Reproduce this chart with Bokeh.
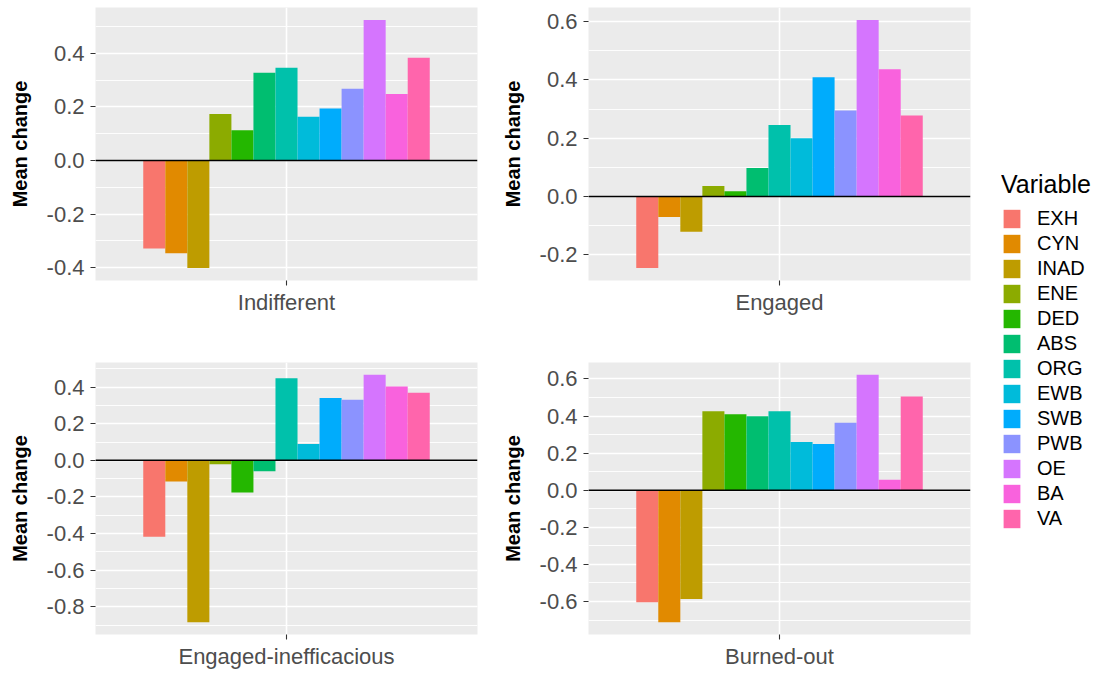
from bokeh.plotting import figure
from bokeh.layouts import row, column
from bokeh.models import (Range1d, FixedTicker, SingleIntervalTicker, PrintfTickFormatter,
                          Span, Legend, LegendItem)
from bokeh.embed import file_html
from bokeh.resources import INLINE

variables = ["EXH", "CYN", "INAD", "ENE", "DED", "ABS", "ORG", "EWB", "SWB", "PWB", "OE", "BA", "VA"]
colors = ["#F8766D", "#E18A00", "#BE9C00", "#8CAB00", "#24B700", "#00BE70", "#00C1AB",
          "#00BBDA", "#00ACFC", "#8B93FF", "#D575FE", "#F962DD", "#FF65AC"]
profiles = ["Indifferent", "Engaged", "Engaged-inefficacious", "Burned-out"]
indifferent = [-0.329, -0.347, -0.402, 0.174, 0.113, 0.328, 0.346, 0.163, 0.194, 0.268, 0.525, 0.248, 0.384]
engaged = [-0.246, -0.071, -0.121, 0.036, 0.018, 0.098, 0.245, 0.200, 0.409, 0.295, 0.606, 0.437, 0.278]
engaged_ineff = [-0.418, -0.115, -0.884, -0.022, -0.176, -0.060, 0.449, 0.089, 0.340, 0.331, 0.467, 0.404, 0.369]
burned_out = [-0.604, -0.711, -0.586, 0.426, 0.410, 0.399, 0.426, 0.260, 0.249, 0.364, 0.622, 0.056, 0.505]

FONT = "Liberation Sans"


def panel(name, vals, bl, br, bt, bb, fh):
    n = len(variables)
    dodge = 0.9
    w = dodge / n
    xs = [1 - dodge / 2 + (i + 0.5) * w for i in range(n)]
    lo = min(min(vals), 0)
    hi = max(max(vals), 0)
    pad = 0.05 * (hi - lo)
    p = figure(frame_width=382, frame_height=fh, min_border_left=bl, min_border_right=br,
               min_border_top=bt, min_border_bottom=bb,
               x_range=Range1d(0.4, 1.6), y_range=Range1d(lo - pad, hi + pad),
               toolbar_location=None, output_backend="svg")
    p.vbar(x=xs, top=vals, bottom=0, width=w, fill_color=colors, line_color=None)
    p.add_layout(Span(location=0, dimension="width", line_color="black", line_width=1.5))
    p.background_fill_color = "#EBEBEB"
    p.border_fill_color = "white"
    p.outline_line_color = None

    p.xaxis.ticker = FixedTicker(ticks=[1])
    p.xaxis.major_label_overrides = {1: name}
    p.yaxis.ticker = SingleIntervalTicker(interval=0.2, num_minor_ticks=2)
    p.yaxis.formatter = PrintfTickFormatter(format="%.1f")
    for ax in (p.xaxis[0], p.yaxis[0]):
        ax.axis_line_color = None
        ax.major_tick_in = 0
        ax.major_tick_out = 5
        ax.major_tick_line_color = "#333333"
        ax.major_tick_line_width = 1.1
        ax.minor_tick_line_color = None
        ax.major_label_text_font = FONT
        ax.major_label_text_font_size = "22px"
        ax.major_label_text_color = "#4D4D4D"
    p.xaxis.major_label_standoff = 4
    p.yaxis.major_label_standoff = 6
    p.yaxis.axis_label = "Mean change"
    p.yaxis.axis_label_text_font = FONT
    p.yaxis.axis_label_text_font_style = "bold"
    p.yaxis.axis_label_text_font_size = "20px"
    p.yaxis.axis_label_text_color = "black"
    p.yaxis.axis_label_standoff = 13

    p.xgrid.grid_line_color = "white"
    p.xgrid.grid_line_width = 1.6
    p.ygrid.grid_line_color = "white"
    p.ygrid.grid_line_width = 1.6
    p.ygrid.minor_grid_line_color = "white"
    p.ygrid.minor_grid_line_width = 0.9
    return p


p1 = panel(profiles[0], indifferent, 95, 11, 7, 50, 273)
p2 = panel(profiles[1], engaged, 100, 10, 7, 50, 273)
p3 = panel(profiles[2], engaged_ineff, 95, 11, 32, 34, 272)
p4 = panel(profiles[3], burned_out, 100, 10, 32, 34, 272)

pl = figure(frame_width=90, frame_height=470, min_border_left=21, min_border_top=170,
            min_border_right=0, min_border_bottom=0, x_axis_location=None, y_axis_location=None,
            x_range=Range1d(0, 1), y_range=Range1d(0, 1),
            toolbar_location=None, output_backend="svg")
pl.outline_line_color = None
for g in pl.grid:
    g.visible = False
nan = float("nan")
items = []
for v, c in zip(variables, colors):
    r = pl.quad(left=[nan], right=[nan], top=[nan], bottom=[nan], fill_color=c, line_color=None)
    items.append(LegendItem(label=v, renderers=[r]))
leg = Legend(items=items, location="top_left", title="Variable",
             title_text_font=FONT, title_text_font_size="25px", title_text_font_style="normal",
             title_text_color="black", title_standoff=8,
             label_text_font=FONT, label_text_font_size="20px", label_text_color="black",
             glyph_width=21, glyph_height=23, label_height=23, spacing=2, label_standoff=15,
             padding=0, margin=0, border_line_color=None, background_fill_alpha=0)
pl.add_layout(leg)

layout = row(column(row(p1, p2), row(p3, p4)), pl)
open("out.html", "w").write(file_html(layout, INLINE))
